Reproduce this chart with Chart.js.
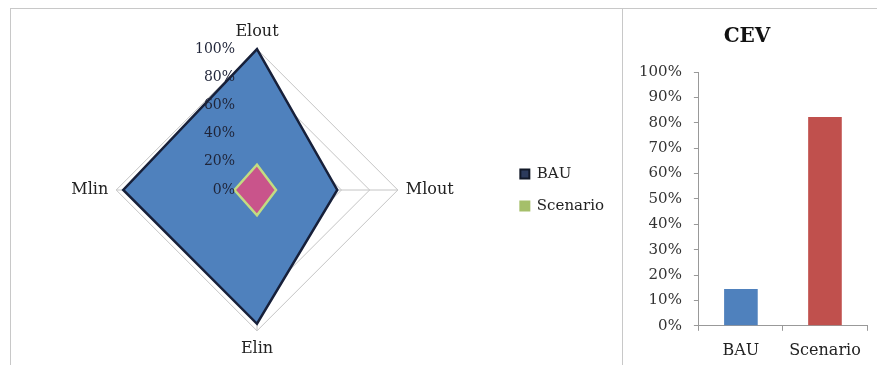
<!DOCTYPE html>
<html>
<head>
<meta charset="utf-8">
<script src="https://cdn.jsdelivr.net/npm/chart.js@4/dist/chart.umd.min.js"></script>
<style>
  html,body{margin:0;padding:0;background:#fff;width:877px;height:365px;overflow:hidden;}
  #frameTop{position:absolute;left:10px;top:8px;width:867px;height:0;border-top:1px solid #c8c8c8;}
  #frameLeft{position:absolute;left:10px;top:8px;width:0;height:357px;border-left:1px solid #c8c8c8;}
  #divider{position:absolute;left:622px;top:8px;width:0;height:357px;border-left:1px solid #c8c8c8;}
  #radarBox{position:absolute;left:11px;top:9px;width:611px;height:356px;}
  #barBox{position:absolute;left:623px;top:9px;width:254px;height:361px;}
</style>
</head>
<body>
<div id="frameTop"></div><div id="frameLeft"></div><div id="divider"></div>
<div id="radarBox"><canvas id="radar"></canvas></div>
<div id="barBox"><canvas id="bar"></canvas></div>
<script>
// ---- data ----
const radarAxes = ["Elout", "Mlout", "Elin", "Mlin"];
const bauRadar = [1.00, 0.57, 0.95, 0.95];
const scenarioRadar = [0.18, 0.135, 0.18, 0.16];
const radarTicks = [0, 0.2, 0.4, 0.6, 0.8, 1.0];
const seriesNames = ["BAU", "Scenario"];
const barCategories = ["BAU", "Scenario"];
const cevValues = [0.145, 0.823];
const barTitle = "CEV";

const SERIF = "'DejaVu Serif', 'Liberation Serif', serif";
const pct = v => Math.round(v * 100) + "%";

const radarTickPlugin = {
  id: 'radarTicks',
  afterDatasetsDraw(chart) {
    const s = chart.scales.r;
    const ctx = chart.ctx;
    ctx.save();
    ctx.font = "14px " + SERIF;
    ctx.fillStyle = "#1f2438";
    ctx.textAlign = "right";
    ctx.textBaseline = "middle";
    radarTicks.forEach(v => {
      const d = s.getDistanceFromCenterForValue(v);
      ctx.fillText(pct(v), s.xCenter - 22, s.yCenter - d);
    });
    ctx.restore();
  }
};

new Chart(document.getElementById('radar'), {
  type: 'radar',
  data: {
    labels: radarAxes,
    datasets: [
      { label: seriesNames[0], data: bauRadar, order: 2, backgroundColor: '#4F81BD', borderColor: '#17203a', borderWidth: 2.5, pointRadius: 0, fill: true },
      { label: seriesNames[1], data: scenarioRadar, order: 1, backgroundColor: '#C9548B', borderColor: '#C2DC82', borderWidth: 2.5, pointRadius: 0, fill: true }
    ]
  },
  options: {
    responsive: true, maintainAspectRatio: false, animation: false,
    layout: { padding: { top: 13, bottom: 7, left: 0, right: 8 } },
    elements: { line: { tension: 0, borderJoinStyle: 'miter' } },
    plugins: {
      tooltip: { enabled: false },
      legend: {
        position: 'right',
        labels: {
          font: { size: 15, family: SERIF }, color: '#222', boxWidth: 9, boxHeight: 9, padding: 17,
          generateLabels(chart) {
            const fills = ['#2c3b5c', '#A5BF6A'];
            const strokes = ['#111827', '#A5BF6A'];
            return chart.data.datasets.map((d, i) => ({
              text: d.label, fillStyle: fills[i], strokeStyle: strokes[i], lineWidth: 2, datasetIndex: i, hidden: false, fontColor: '#222'
            }));
          }
        }
      }
    },
    scales: {
      r: {
        min: 0, max: 1,
        ticks: { stepSize: 0.2, display: false },
        grid: { color: '#c4c4c4', lineWidth: 1 },
        angleLines: { color: '#c4c4c4', lineWidth: 1 },
        pointLabels: { font: { size: 16, family: SERIF }, color: '#222', padding: 8 }
      }
    }
  },
  plugins: [radarTickPlugin]
});

new Chart(document.getElementById('bar'), {
  type: 'bar',
  data: {
    labels: barCategories,
    datasets: [{ data: cevValues, backgroundColor: ['#4F81BD', '#C0504D'], borderWidth: 0, categoryPercentage: 1, barPercentage: 0.4 }]
  },
  options: {
    responsive: true, maintainAspectRatio: false, animation: false,
    layout: { padding: { right: 10, left: 4, top: 0, bottom: 0 } },
    plugins: {
      legend: { display: false }, tooltip: { enabled: false },
      title: { display: true, text: barTitle, font: { size: 20, weight: 'bold', family: SERIF }, color: '#111', padding: { top: 16, bottom: 23 } }
    },
    scales: {
      y: {
        min: 0, max: 1,
        ticks: { stepSize: 0.1, callback: v => pct(v), font: { size: 15, family: SERIF }, color: '#333', padding: 12 },
        grid: { drawOnChartArea: false, drawTicks: true, tickLength: 5, color: '#999' },
        border: { color: '#999' }
      },
      x: {
        ticks: { font: { size: 16, family: SERIF }, color: '#222', padding: 10, maxRotation: 0, minRotation: 0, autoSkip: false },
        grid: { drawOnChartArea: false, drawTicks: true, tickLength: 5, color: '#999', offset: true },
        border: { color: '#999' }
      }
    }
  }
});
</script>
</body>
</html>
